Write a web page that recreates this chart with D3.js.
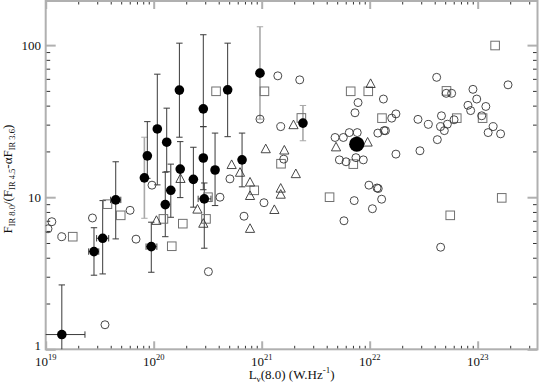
<!DOCTYPE html>
<html>
<head>
<meta charset="utf-8">
<script src="https://cdn.jsdelivr.net/npm/d3@7"></script>
<style>
body { margin: 0; background: #fff; }
text { font-family: "Liberation Serif", "Times New Roman", serif; fill: #111; }
</style>
</head>
<body>
<svg id="chart" width="539" height="387" font-family="Liberation Serif, serif"></svg>
<script>
// Open circles: [L(8.0) W/Hz, flux ratio]
var openCircles = [
    [1.14e19, 6.9], [1.05e19, 6.2], [1.41e19, 5.5], [2.71e19, 7.3], [3.54e19, 1.45],
    [6.04e19, 8.2], [6.86e19, 5.3], [9.64e19, 12.0], [3.21e20, 3.24], [4.11e20, 10.0],
    [5.08e20, 13.2], [6.86e20, 7.5], [1.05e21, 9.2], [9.64e20, 32.6], [1.41e21, 62.8],
    [2.25e21, 59.1], [1.50e21, 29.1], [1.60e21, 17.8], [4.78e21, 24.7], [5.70e21, 24.7],
    [6.47e21, 26.6], [7.67e21, 26.6], [5.24e21, 17.6], [6.04e21, 17.1], [7.46e21, 18.2],
    [8.73e21, 17.6], [7.80e21, 41.9], [7.31e21, 35.9], [1.34e22, 44.2], [1.60e22, 33.1],
    [1.75e22, 35.3], [1.36e22, 27.4], [1.40e22, 27.4], [1.19e22, 26.4], [1.75e22, 19.2],
    [2.92e22, 20.2], [2.80e22, 32.5], [3.49e22, 30.1], [4.17e22, 61.4], [5.11e22, 48.2],
    [5.74e22, 48.2], [4.62e22, 34.3], [4.53e22, 29.1], [5.24e22, 30.2], [4.91e22, 27.4],
    [6.04e22, 32.3], [4.23e22, 23.9], [9.04e22, 51.2], [9.8e22, 44.2], [8.13e22, 40.2],
    [8.61e22, 37.1], [1.19e23, 39.5], [1.09e23, 34.3], [1.39e23, 29.1], [1.25e23, 26.6],
    [1.63e23, 26.1], [1.91e23, 54.8], [9.84e21, 12.0], [1.20e22, 11.4], [1.17e22, 11.5],
    [1.29e22, 9.7], [7.19e21, 9.5], [1.06e22, 8.4], [5.78e21, 7.0], [4.54e22, 4.69]
];

// Open squares
var openSquares = [
    [1.78e19, 5.5], [3.73e19, 9.0], [4.95e19, 7.6], [1.23e20, 7.2], [1.86e20, 6.7],
    [1.47e20, 4.76], [3.78e20, 49.7], [1.06e21, 49.7], [2.33e21, 33.2], [1.51e21, 16.6],
    [8.53e20, 11.1], [3.18e20, 10.0], [3.05e20, 7.2], [6.67e21, 49.7], [9.70e21, 49.7],
    [1.30e22, 33.1], [7.05e21, 16.5], [4.25e21, 10.0], [5.14e22, 50.0], [6.40e22, 33.1],
    [1.11e23, 33.1], [1.45e23, 99.4], [1.67e23, 9.9], [5.57e22, 7.6]
];

// Open triangles
var openTriangles = [
    [1.06e20, 7.0], [1.77e20, 13.2], [5.27e20, 16.3], [6.30e20, 14.5], [7.80e20, 12.5],
    [7.80e20, 10.2], [7.80e20, 6.2], [1.31e21, 8.25], [1.50e21, 11.4], [1.50e21, 10.4],
    [1.09e21, 20.7], [1.62e21, 20.3], [2.07e21, 14.2], [1.97e21, 29.8], [2.54e20, 8.3],
    [2.88e20, 6.7], [1.02e22, 55.6], [9.57e21, 22.9], [4.88e21, 21.3]
];

// Filled points with errors: [L, F, Flow, Fhigh, Llow, Lhigh]
var detections = [
    [1.41e19, 1.25, 0.8, 2.65, 0.9e19, 2.31e19],
    [2.8e19, 4.39, 3.07, 6.3, 2.5e19, 3.1e19],
    [3.37e19, 5.37, 3.13, 9.5, 2.96e19, 3.83e19],
    [4.45e19, 9.6, 5.32, 17.1, 3.99e19, 4.96e19],
    [8.2e19, 13.4, 7.27, 24.8, null, null],
    [8.73e19, 18.7, 13.3, 31.4, null, null],
    [1.08e20, 28.1, 12.05, 64.4, null, null],
    [1.32e20, 23.0, 14.7, 38.5, null, null],
    [1.28e20, 8.94, 5.5, 14.6, null, null],
    [1.44e20, 11.1, 7.38, 16.5, null, null],
    [9.5e19, 4.73, 3.21, 6.85, 8.5e19, 1.07e20],
    [1.76e20, 15.3, 9.94, 23.2, null, null],
    [1.73e20, 50.6, 24.8, 103, null, null],
    [2.33e20, 13.1, 8.6, 21.3, null, null],
    [2.88e20, 38.1, 29.1, 117, null, null],
    [2.88e20, 18.1, 11.2, 29.1, null, null],
    [2.94e20, 9.75, 4.62, 12.4, 2.58e20, 3.39e20],
    [3.7e20, 15.1, 8.81, 26.4, null, null],
    [4.84e20, 50.8, 25.0, 103, null, null],
    [6.58e20, 17.6, 11.7, 26.4, null, null],
    [9.64e20, 65.4, 32.6, 132, null, null],
    [2.41e21, 30.7, 23.5, 40.1, null, null]
];
var grayBars = [4, 20, 21];

// Stacked (big) point
var stacked = [[7.59e21, 22.3]];

var xMajor = [1e19, 1e20, 1e21, 1e22, 1e23];
var yMajor = [1, 10, 100];

var width = 539, height = 387;
var margin = {top: 1, right: 1.5, bottom: 37.7, left: 45.7};

var svg = d3.select('#chart');

var x = d3.scaleLog()
    .domain([1e19, 3.58e23])
    .range([margin.left, width - margin.right]);

var y = d3.scaleLog()
    .domain([1, 195])
    .range([height - margin.bottom, margin.top]);

var x0 = margin.left, x1 = width - margin.right;
var y0 = height - margin.bottom, y1 = margin.top;

svg.append('clipPath').attr('id', 'plotclip')
    .append('rect')
    .attr('x', x0).attr('y', y1)
    .attr('width', x1 - x0).attr('height', y0 - y1);

// minor ticks = all 1..9 multiples that are not decades
function isDecade(v) {
    var e = Math.log10(v);
    return Math.abs(e - Math.round(e)) < 1e-9;
}
var xMinor = x.ticks().filter(function(d) { return !isDecade(d); });
var yMinor = y.ticks().filter(function(d) { return !isDecade(d); });

function drawAxis(gen, tr, vals, size, color, sw) {
    var g = svg.append('g')
        .attr('transform', tr)
        .call(gen.tickValues(vals).tickSize(size).tickSizeOuter(0).tickFormat(''));
    g.select('.domain').remove();
    g.selectAll('.tick line').attr('stroke', color).attr('stroke-width', sw);
    return g;
}

// bottom / top
drawAxis(d3.axisBottom(x), 'translate(0,' + y0 + ')', xMinor, -3.5, '#333', 1);
drawAxis(d3.axisTop(x), 'translate(0,' + y1 + ')', xMinor, -3.5, '#333', 1);
drawAxis(d3.axisBottom(x), 'translate(0,' + y0 + ')', xMajor, -8, '#b0b0b0', 2);
drawAxis(d3.axisTop(x), 'translate(0,' + y1 + ')', xMajor, -8, '#b0b0b0', 2);
// left / right
drawAxis(d3.axisLeft(y), 'translate(' + x0 + ',0)', yMinor, -4.5, '#333', 1);
drawAxis(d3.axisRight(y), 'translate(' + x1 + ',0)', yMinor, -4.5, '#333', 1);
drawAxis(d3.axisLeft(y), 'translate(' + x0 + ',0)', yMajor, -10, '#b0b0b0', 2);
drawAxis(d3.axisRight(y), 'translate(' + x1 + ',0)', yMajor, -10, '#b0b0b0', 2);

// frame
svg.append('rect')
    .attr('x', x0).attr('y', y1)
    .attr('width', x1 - x0).attr('height', y0 - y1)
    .attr('fill', 'none')
    .attr('stroke', '#b0b0b0')
    .attr('stroke-width', 2);

// x tick labels 10^n
var xLab = svg.append('g').selectAll('text')
    .data(xMajor)
    .join('text')
    .attr('x', function(d) { return x(d); })
    .attr('y', 366)
    .attr('text-anchor', 'middle')
    .style('font-size', '13px');
xLab.append('tspan').text('10');
xLab.append('tspan')
    .attr('dy', -6)
    .style('font-size', '8.5px')
    .text(function(d) { return Math.round(Math.log10(d)); });

// y tick labels ("1" sits a little higher, clear of the x labels)
svg.append('g').selectAll('text')
    .data(yMajor)
    .join('text')
    .attr('x', 41)
    .attr('y', function(d) { return d === 1 ? y(d) + 0.7 : y(d) + 4.8; })
    .attr('text-anchor', 'end')
    .style('font-size', '13px')
    .text(function(d) { return d; });

// x title
var xt = svg.append('text')
    .attr('x', (x0 + x1) / 2)
    .attr('y', 379)
    .attr('text-anchor', 'middle')
    .style('font-size', '13px');
xt.append('tspan').text('L');
xt.append('tspan').attr('dy', 3).style('font-size', '9px').text('ν');
xt.append('tspan').attr('dy', -3).text('(8.0) (W.Hz');
xt.append('tspan').attr('dy', -6).style('font-size', '9px').text('-1');
xt.append('tspan').attr('dy', 6).text(')');

// y title
var yt = svg.append('text')
    .attr('transform', 'translate(12,' + ((y0 + y1) / 2 + 4) + ') rotate(-90)')
    .attr('text-anchor', 'middle')
    .style('font-size', '13px');
var yParts = [['F', 0], ['IR 8.0', 1], ['/(F', 0], ['IR 4.5', 1], ['-αF', 0], ['IR 3.6', 1], [')', 0]];
var prevSub = 0;
yParts.forEach(function(p) {
    var t = yt.append('tspan').text(p[0]);
    if (p[1] === 1) {
        t.attr('dy', 3).style('font-size', '8.5px');
    } else if (prevSub === 1) {
        t.attr('dy', -3);
    }
    prevSub = p[1];
});

// plot layer
var plot = svg.append('g').attr('clip-path', 'url(#plotclip)');

// error bars
var bars = plot.append('g');
detections.forEach(function(d, i) {
    var col = grayBars.indexOf(i) >= 0 ? '#a8a8a8' : '#3a3a3a';
    var px = x(d[0]), py = y(d[1]);
    var ylo = y(d[2]), yhi = y(d[3]);
    bars.append('line')
        .attr('x1', px).attr('x2', px)
        .attr('y1', ylo).attr('y2', yhi)
        .attr('stroke', col).attr('stroke-width', col === '#a8a8a8' ? 1.6 : 1);
    [ylo, yhi].forEach(function(cy) {
        bars.append('line')
            .attr('x1', px - 3.2).attr('x2', px + 3.2)
            .attr('y1', cy).attr('y2', cy)
            .attr('stroke', col).attr('stroke-width', 1);
    });
    if (d[4] !== null) {
        var xlo = x(d[4]), xhi = x(d[5]);
        bars.append('line')
            .attr('x1', xlo).attr('x2', xhi)
            .attr('y1', py).attr('y2', py)
            .attr('stroke', '#3a3a3a').attr('stroke-width', 1);
        [xlo, xhi].forEach(function(cx) {
            bars.append('line')
                .attr('x1', cx).attr('x2', cx)
                .attr('y1', py - 3.2).attr('y2', py + 3.2)
                .attr('stroke', '#3a3a3a').attr('stroke-width', 1);
        });
    }
});

// squares
plot.append('g').selectAll('rect')
    .data(openSquares)
    .join('rect')
    .attr('x', function(d) { return x(d[0]) - 4.3; })
    .attr('y', function(d) { return y(d[1]) - 4.3; })
    .attr('width', 8.6)
    .attr('height', 8.6)
    .attr('fill', 'none')
    .attr('stroke', '#707070')
    .attr('stroke-width', 1);

// triangles
plot.append('g').selectAll('path')
    .data(openTriangles)
    .join('path')
    .attr('d', 'M0,-5L4.6,3.6L-4.6,3.6Z')
    .attr('transform', function(d) { return 'translate(' + x(d[0]) + ',' + y(d[1]) + ')'; })
    .attr('fill', 'none')
    .attr('stroke', '#333')
    .attr('stroke-width', 0.9);

// open circles
plot.append('g').selectAll('circle')
    .data(openCircles)
    .join('circle')
    .attr('cx', function(d) { return x(d[0]); })
    .attr('cy', function(d) { return y(d[1]); })
    .attr('r', 4)
    .attr('fill', 'none')
    .attr('stroke', '#333')
    .attr('stroke-width', 0.9);

// filled circles
plot.append('g').selectAll('circle')
    .data(detections)
    .join('circle')
    .attr('cx', function(d) { return x(d[0]); })
    .attr('cy', function(d) { return y(d[1]); })
    .attr('r', 4.8)
    .attr('fill', '#000');

plot.append('g').selectAll('circle')
    .data(stacked)
    .join('circle')
    .attr('cx', function(d) { return x(d[0]); })
    .attr('cy', function(d) { return y(d[1]); })
    .attr('r', 7.6)
    .attr('fill', '#000');
</script>
</body>
</html>
